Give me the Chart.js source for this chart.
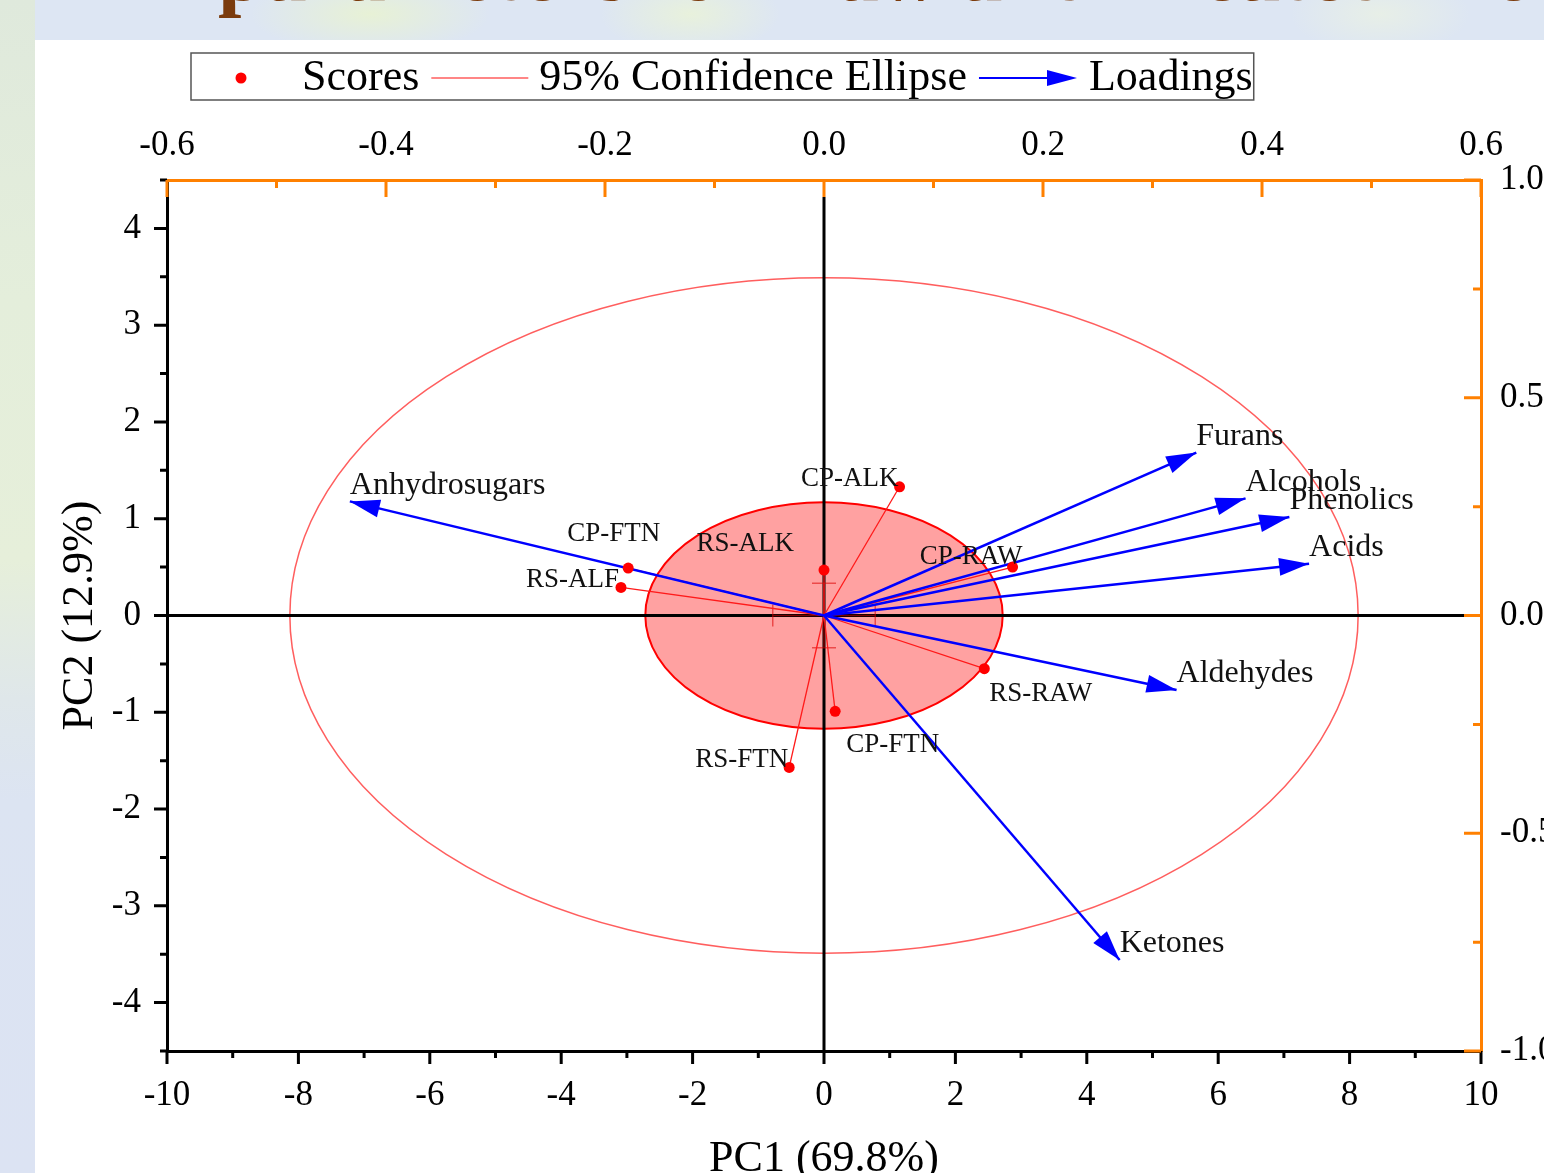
<!DOCTYPE html>
<html>
<head>
<meta charset="utf-8">
<title>PCA biplot</title>
<script src="https://cdn.jsdelivr.net/npm/chart.js@4.4.1/dist/chart.umd.min.js"></script>
<style>
  html, body { margin: 0; padding: 0; width: 1544px; height: 1173px; overflow: hidden; }
  body {
    position: relative;
    background:
      radial-gradient(ellipse 120px 40px at 370px 14px, rgba(232,242,212,0.95), rgba(232,242,212,0) 100%),
      radial-gradient(ellipse 90px 40px at 690px 14px, rgba(234,243,216,0.85), rgba(234,243,216,0) 100%),
      radial-gradient(ellipse 90px 40px at 1380px 14px, rgba(234,241,228,0.8), rgba(234,241,228,0) 100%),
      #dde6f3;
  }
  #left-strip {
    position: absolute; left: 0; top: 0; width: 35px; height: 1173px;
    background: linear-gradient(180deg, #dfe9dc 0px, #e4eedb 300px, #e6efda 560px, #dfe7ea 700px, #dce4f2 800px, #dce3f3 1173px);
  }
  #slide-title {
    position: absolute; left: 218px; top: -70px;
    font: bold 84px/84px "Liberation Serif", serif;
    color: #7b3b0c; white-space: nowrap;
  }
  #panel { position: absolute; left: 35px; top: 40px; width: 1509px; height: 1160px; background: #fff; }
  #panel canvas { display: block; }
</style>
</head>
<body>
<div id="left-strip"></div>
<div id="slide-title">parameters for Raw and Treated Biomass</div>
<div id="panel"><canvas id="biplot" width="1509" height="1160"></canvas></div>
<script>
// PCA biplot: sample scores on PC1/PC2 (bottom/left), variable loadings (top/right)

const scoreNames = ['CP-ALK', 'RS-ALK', 'CP-FTN', 'RS-ALF', 'CP-RAW', 'RS-RAW', 'CP-FTN', 'RS-FTN'];
const pc1Scores = [1.15, 0.0, -2.98, -3.09, 2.87, 2.44, 0.17, -0.53];
const pc2Scores = [1.33, 0.47, 0.49, 0.29, 0.50, -0.55, -0.99, -1.57];

const loadingNames = ['Anhydrosugars', 'Furans', 'Alcohols', 'Phenolics', 'Acids', 'Aldehydes', 'Ketones'];
const pc1Loadings = [-0.433, 0.340, 0.385, 0.425, 0.443, 0.322, 0.270];
const pc2Loadings = [0.262, 0.374, 0.269, 0.226, 0.119, -0.171, -0.791];

// group mean of the scores and its error bars
const centroid = [0, 0];
const centroidErr = [0.78, 0.334];

// 95% confidence ellipse, and the filled ellipse round the mean
const confEllipse = [0, 0, 8.13, 3.49];   // cx, cy, rx, ry
const meanEllipse = [0, 0, 2.72, 1.17];

// tick labels
const pc1TickValues = [-10, -8, -6, -4, -2, 0, 2, 4, 6, 8, 10];
const pc2TickValues = [-4, -3, -2, -1, 0, 1, 2, 3, 4];
const topTickValues = [-0.6, -0.4, -0.2, 0.0, 0.2, 0.4, 0.6];
const rightTickValues = [-1.0, -0.5, 0.0, 0.5, 1.0];

// label placement next to each score: align, dx, dy (px)
const scoreLabelPlace = [
  ['right', -1, -8], ['right', -30, -26], ['right', 32, -34], ['right', -2, -8],
  ['right', 10, -10], ['left', 5, 25], ['left', 11, 34], ['right', -1, -8]
];

const ORANGE = '#ff8000';
const SERIF = '"Liberation Serif", "Times New Roman", serif';

const datasets = [];
datasets.push({
  label: 'Scores',
  data: pc1Scores.map((x, i) => ({ x: x, y: pc2Scores[i] })),
  xAxisID: 'x', yAxisID: 'y',
  showLine: false,
  pointRadius: 5.5,
  pointBackgroundColor: '#ff0000',
  pointBorderWidth: 0
});
pc1Loadings.forEach((lx, i) => {
  datasets.push({
    label: loadingNames[i],
    role: 'loading',
    data: [{ x: 0, y: 0 }, { x: lx, y: pc2Loadings[i] }],
    xAxisID: 'x2', yAxisID: 'y2',
    showLine: true,
    borderColor: '#0000ff',
    borderWidth: 2.5,
    pointRadius: 0
  });
});
// spokes from the group mean to every score
pc1Scores.forEach((sx, i) => {
  datasets.push({
    label: 'spoke ' + scoreNames[i],
    data: [{ x: centroid[0], y: centroid[1] }, { x: sx, y: pc2Scores[i] }],
    xAxisID: 'x', yAxisID: 'y',
    showLine: true,
    borderColor: '#ff1a1a',
    borderWidth: 1.3,
    pointRadius: 0
  });
});

function ellipsePath(ctx, xs, ys, e) {
  const cx = xs.getPixelForValue(e[0]);
  const cy = ys.getPixelForValue(e[1]);
  const rx = Math.abs(xs.getPixelForValue(e[0] + e[2]) - cx);
  const ry = Math.abs(ys.getPixelForValue(e[1] + e[3]) - cy);
  ctx.beginPath();
  ctx.ellipse(cx, cy, rx, ry, 0, 0, Math.PI * 2);
}

function arrowHead(ctx, x0, y0, x1, y1, len, half) {
  const ang = Math.atan2(y1 - y0, x1 - x0);
  const bx = x1 - len * Math.cos(ang), by = y1 - len * Math.sin(ang);
  ctx.beginPath();
  ctx.moveTo(x1, y1);
  ctx.lineTo(bx + half * Math.sin(ang), by - half * Math.cos(ang));
  ctx.lineTo(bx - half * Math.sin(ang), by + half * Math.cos(ang));
  ctx.closePath();
  ctx.fill();
}

const biplotDecor = {
  id: 'biplotDecor',
  beforeDatasetsDraw(chart) {
    const { ctx, chartArea: a, scales: { x, y } } = chart;
    ctx.save();
    // 95% confidence ellipse
    ellipsePath(ctx, x, y, confEllipse);
    ctx.strokeStyle = 'rgba(255,40,40,0.75)';
    ctx.lineWidth = 1.5;
    ctx.stroke();
    // filled ellipse round the mean
    ellipsePath(ctx, x, y, meanEllipse);
    ctx.fillStyle = 'rgba(255,0,0,0.37)';
    ctx.fill();
    ctx.strokeStyle = '#ff0000';
    ctx.lineWidth = 2;
    ctx.stroke();
    // zero lines
    const x0 = x.getPixelForValue(0), y0 = y.getPixelForValue(0);
    ctx.strokeStyle = '#000';
    ctx.lineWidth = 3;
    ctx.beginPath();
    ctx.moveTo(a.left, y0); ctx.lineTo(a.right - 16, y0);
    ctx.moveTo(x0, a.top + 17); ctx.lineTo(x0, a.bottom);
    ctx.stroke();
    // error bars of the mean
    const mx = x.getPixelForValue(centroid[0]), my = y.getPixelForValue(centroid[1]);
    const ex1 = x.getPixelForValue(centroid[0] - centroidErr[0]);
    const ex2 = x.getPixelForValue(centroid[0] + centroidErr[0]);
    const ey1 = y.getPixelForValue(centroid[1] + centroidErr[1]);
    const ey2 = y.getPixelForValue(centroid[1] - centroidErr[1]);
    ctx.strokeStyle = 'rgba(220,0,0,0.55)';
    ctx.lineWidth = 1.5;
    ctx.beginPath();
    ctx.moveTo(ex1, my); ctx.lineTo(ex2, my);
    ctx.moveTo(mx, ey1); ctx.lineTo(mx, ey2);
    ctx.moveTo(ex1, my - 11); ctx.lineTo(ex1, my + 11);
    ctx.moveTo(ex2, my - 11); ctx.lineTo(ex2, my + 11);
    ctx.moveTo(mx - 12, ey1); ctx.lineTo(mx + 12, ey1);
    ctx.moveTo(mx - 12, ey2); ctx.lineTo(mx + 12, ey2);
    ctx.stroke();
    ctx.restore();
  },
  afterDatasetsDraw(chart) {
    const { ctx } = chart;
    ctx.save();
    ctx.textBaseline = 'middle';
    chart.data.datasets.forEach((ds, i) => {
      if (ds.role !== 'loading') return;
      const pts = chart.getDatasetMeta(i).data;
      ctx.fillStyle = '#0000ff';
      arrowHead(ctx, pts[0].x, pts[0].y, pts[1].x, pts[1].y, 30, 9);
      ctx.fillStyle = '#111';
      ctx.font = '32px ' + SERIF;
      ctx.textAlign = 'left';
      ctx.fillText(ds.label, pts[1].x, pts[1].y - 16);
    });
    // score labels
    const sp = chart.getDatasetMeta(0).data;
    ctx.font = '27px ' + SERIF;
    ctx.fillStyle = '#111';
    sp.forEach((p, i) => {
      const [al, dx, dy] = scoreLabelPlace[i];
      ctx.textAlign = al;
      ctx.fillText(scoreNames[i], p.x + dx, p.y + dy);
    });
    ctx.restore();
  },
  afterDraw(chart) {
    const { ctx, chartArea: a, scales } = chart;
    ctx.save();
    ctx.lineWidth = 3;
    // bottom ticks (outward), major every 2
    ctx.strokeStyle = '#000';
    ctx.beginPath();
    for (let k = -10; k <= 10; k++) {
      const px = scales.x.getPixelForValue(k);
      ctx.moveTo(px, a.bottom); ctx.lineTo(px, a.bottom + (k % 2 === 0 ? 13 : 7));
    }
    // left ticks (outward), major every 1
    for (let k = -9; k <= 9; k++) {
      const py = scales.y.getPixelForValue(k / 2);
      ctx.moveTo(a.left, py); ctx.lineTo(a.left - (k % 2 === 0 ? 13 : 7), py);
    }
    ctx.stroke();
    // top ticks (inward), major every 0.2
    ctx.strokeStyle = ORANGE;
    ctx.beginPath();
    for (let k = -6; k <= 6; k++) {
      const px = scales.x2.getPixelForValue(k / 10);
      ctx.moveTo(px, a.top); ctx.lineTo(px, a.top + (k % 2 === 0 ? 17 : 8));
    }
    // right ticks (inward), major every 0.5
    for (let k = -4; k <= 4; k++) {
      const py = scales.y2.getPixelForValue(k / 4);
      ctx.moveTo(a.right, py); ctx.lineTo(a.right - (k % 2 === 0 ? 17 : 8), py);
    }
    ctx.stroke();

    // legend
    const lx = a.left + 24, ly = 13, lh = 47, cy = ly + lh / 2 + 1.5;
    ctx.font = '44px ' + SERIF;
    ctx.textBaseline = 'middle';
    ctx.textAlign = 'left';
    let cx = lx + 50;
    ctx.fillStyle = '#ff0000';
    ctx.beginPath(); ctx.arc(cx, cy, 5.5, 0, Math.PI * 2); ctx.fill();
    cx += 61;
    ctx.fillStyle = '#000';
    ctx.fillText('Scores', cx, cy);
    cx += ctx.measureText('Scores').width + 12;
    ctx.strokeStyle = 'rgba(255,40,40,0.75)';
    ctx.lineWidth = 1.5;
    ctx.beginPath(); ctx.moveTo(cx, cy); ctx.lineTo(cx + 97, cy); ctx.stroke();
    cx += 97 + 11;
    ctx.fillText('95% Confidence Ellipse', cx, cy);
    cx += ctx.measureText('95% Confidence Ellipse').width + 12;
    ctx.strokeStyle = '#0000ff';
    ctx.lineWidth = 2;
    ctx.beginPath(); ctx.moveTo(cx, cy); ctx.lineTo(cx + 80, cy); ctx.stroke();
    ctx.fillStyle = '#0000ff';
    arrowHead(ctx, cx, cy, cx + 98, cy, 30, 8);
    cx += 98 + 12;
    ctx.fillStyle = '#000';
    ctx.fillText('Loadings', cx, cy);
    cx += ctx.measureText('Loadings').width + 1;
    ctx.strokeStyle = '#555';
    ctx.lineWidth = 1.5;
    ctx.strokeRect(lx, ly, cx - lx, lh);
    ctx.restore();
  }
};

const tickFont = { family: SERIF, size: 35 };
const titleFont = { family: SERIF, size: 44 };

function fixedTicks(values) {
  return scale => { scale.ticks = values.map(v => ({ value: v })); };
}

new Chart(document.getElementById('biplot'), {
  type: 'scatter',
  data: { datasets: datasets },
  options: {
    responsive: false,
    animation: false,
    layout: { padding: 0 },
    plugins: { legend: { display: false }, tooltip: { enabled: false } },
    scales: {
      x: {
        type: 'linear', position: 'bottom', min: -10, max: 10,
        afterBuildTicks: fixedTicks(pc1TickValues),
        afterFit: s => { s.height = 149; },
        grid: { display: false, drawTicks: false },
        border: { color: '#000', width: 3 },
        ticks: { font: tickFont, color: '#000', padding: 24, maxRotation: 0, autoSkip: false },
        title: { display: true, text: 'PC1 (69.8%)', font: titleFont, color: '#000', padding: { top: 0, bottom: 14 } }
      },
      y: {
        type: 'linear', position: 'left', min: -4.5, max: 4.5,
        afterBuildTicks: fixedTicks(pc2TickValues),
        afterFit: s => { s.width = 132; },
        grid: { display: false, drawTicks: false },
        border: { color: '#000', width: 3 },
        ticks: { font: tickFont, color: '#000', padding: 26, autoSkip: false },
        title: { display: true, text: 'PC2 (12.9%)', font: titleFont, color: '#000', padding: { top: 19, bottom: 0 } }
      },
      x2: {
        type: 'linear', position: 'top', min: -0.6, max: 0.6,
        afterBuildTicks: fixedTicks(topTickValues),
        afterFit: s => { s.height = 140; },
        grid: { display: false, drawTicks: false },
        border: { color: ORANGE, width: 3 },
        ticks: { font: tickFont, color: '#000', padding: 13, maxRotation: 0, autoSkip: false,
                 callback: v => v.toFixed(1) }
      },
      y2: {
        type: 'linear', position: 'right', min: -1, max: 1,
        afterBuildTicks: fixedTicks(rightTickValues),
        afterFit: s => { s.width = 63; },
        grid: { display: false, drawTicks: false },
        border: { color: ORANGE, width: 3 },
        ticks: { font: tickFont, color: '#000', padding: 19, autoSkip: false,
                 callback: v => v.toFixed(1) }
      }
    }
  },
  plugins: [biplotDecor]
});
</script>
</body>
</html>
